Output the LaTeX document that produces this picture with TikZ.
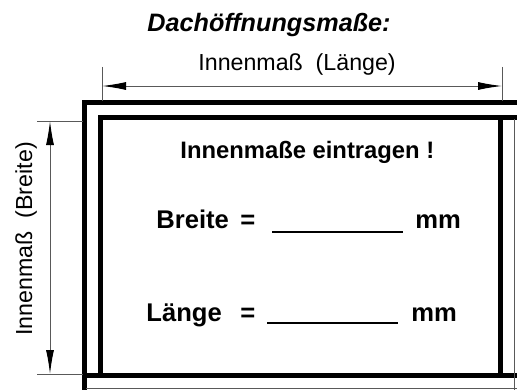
\documentclass[tikz,border=0pt]{standalone}
\usepackage{fontspec}
\setmainfont{Liberation Sans}
\usetikzlibrary{arrows.meta}
\begin{document}
\begin{tikzpicture}[x=0.5pt,y=-0.5pt,
    wall/.style={line width=2.5pt},
    guide/.style={line width=0.5pt,black!65},
    dimarrow/.style={guide,{Latex[length=12pt,width=4pt,black]}-{Latex[length=12pt,width=4pt,black]}},
    txt/.style={inner sep=0pt,anchor=base west}]
  \useasboundingbox (0,0) rectangle (517,390);
  % texts
  \node[txt] (title) at (147,32) {\fontsize{12.6}{15}\selectfont\bfseries\itshape Dachöffnungsmaße:};
  \node[txt] (lang) at (198,70) {\fontsize{11.6}{14}\selectfont Innenmaß~~(Länge)};
  \node[txt,rotate=90] (breit) at (32,336) {\fontsize{11.6}{14}\selectfont Innenmaß~~(Breite)};
  \node[txt] (hint) at (180,158) {\fontsize{11.9}{14}\selectfont\bfseries Innenmaße eintragen !};
  \node[txt] (b) at (156,228) {\fontsize{12.8}{15}\selectfont\bfseries Breite};
  \node[txt] (beq) at (240,228) {\fontsize{12.8}{15}\selectfont\bfseries =};
  \node[txt] (bmm) at (415,228) {\fontsize{12.8}{15}\selectfont\bfseries mm};
  \node[txt] (l) at (146,321) {\fontsize{12.8}{15}\selectfont\bfseries Länge};
  \node[txt] (leq) at (240,321) {\fontsize{12.8}{15}\selectfont\bfseries =};
  \node[txt] (lmm) at (411,321) {\fontsize{12.8}{15}\selectfont\bfseries mm};
  % frame
  \draw[wall] (517,102.5) -| (84.5,390);
  \draw[wall] (517,117.5) -| (100.5,375);
  \draw[wall] (84.5,375) -- (517,375);
  \draw[wall] (500.5,117.5) -- (500.5,375);
  \draw[guide] (86,388) -- (517,388);
  \draw[guide] (514,119) -- (514,390);
  % blanks
  \draw[line width=0.8pt] (272,232) -- (403,232);
  \draw[line width=0.8pt] (267,323) -- (398,323);
  % dimensions
  \coordinate (la) at (102,86);
  \coordinate (lb) at (502,86);
  \coordinate (ba) at (50,121);
  \coordinate (bb) at (50,374);
  \draw[guide] (102,67) -- (102,101);
  \draw[guide] (502,67) -- (502,101);
  \draw[guide] (37,121) -- (83,121);
  \draw[guide] (37,374) -- (83,374);
  \draw[dimarrow] (la) -- (lb);
  \draw[dimarrow] (ba) -- (bb);
\end{tikzpicture}
\end{document}
